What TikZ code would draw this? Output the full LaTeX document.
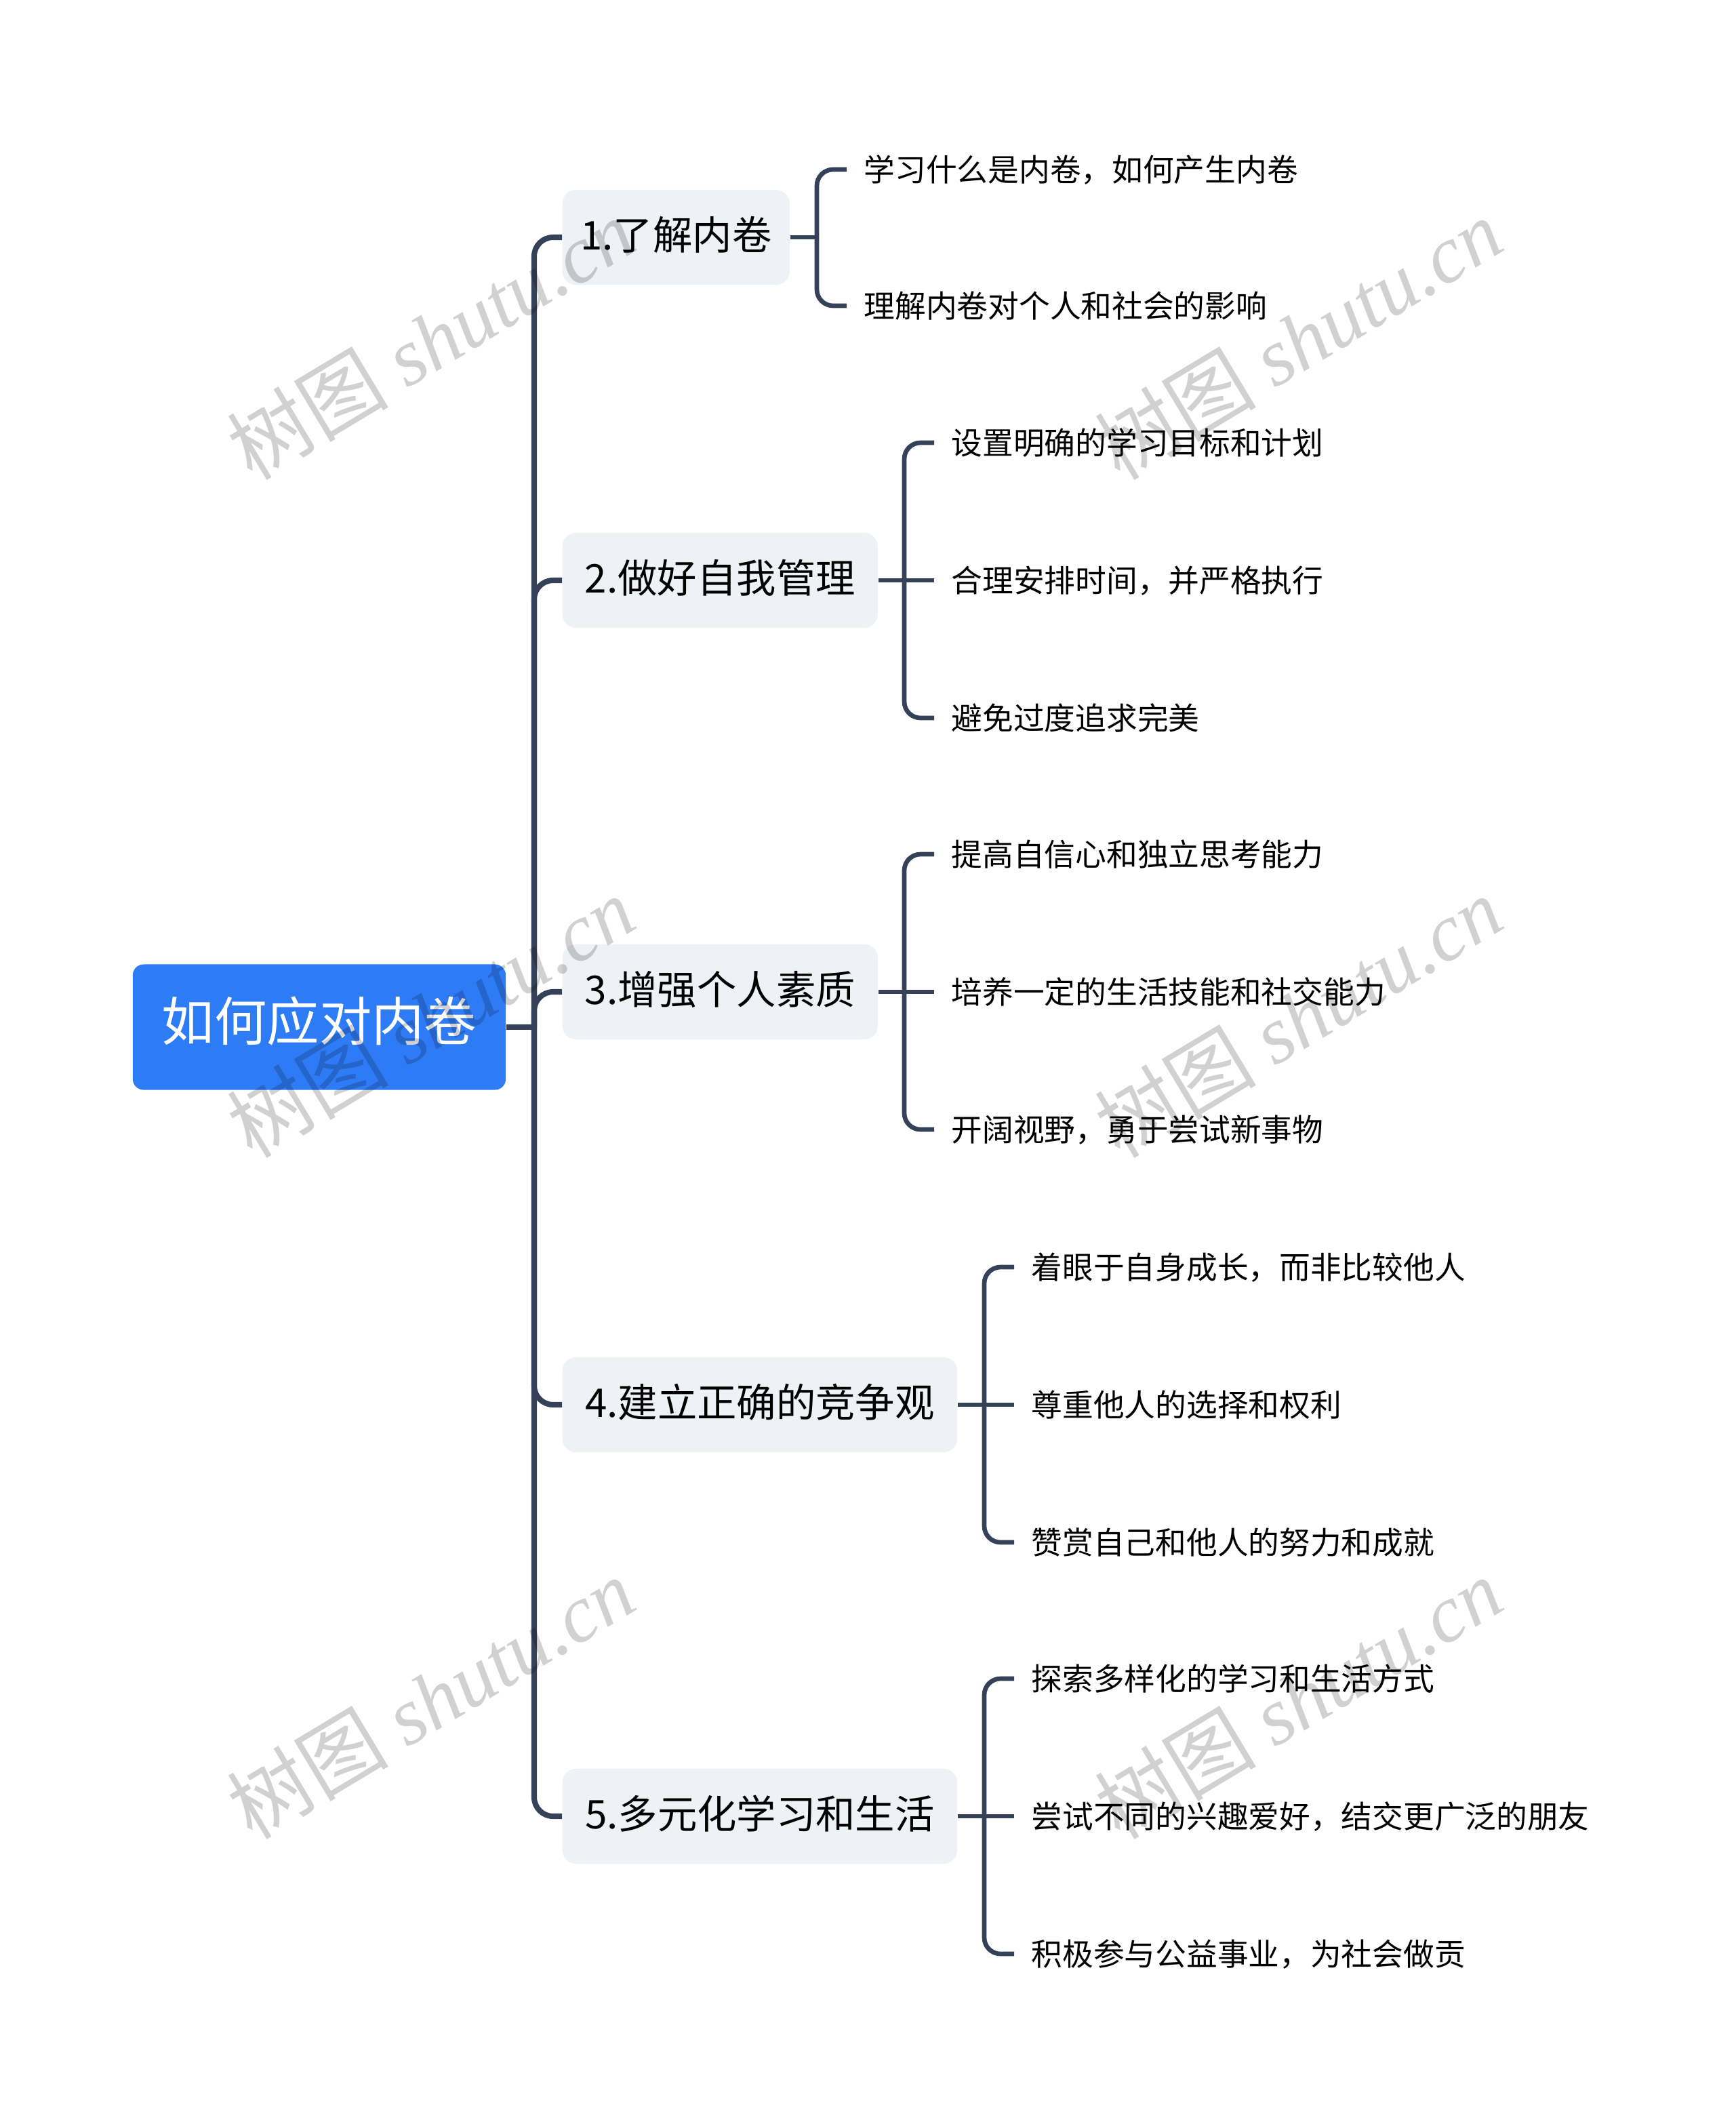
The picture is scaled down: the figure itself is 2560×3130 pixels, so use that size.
\documentclass[tikz,border=0pt]{standalone}
\usepackage{fontspec}
\setmainfont{Noto Sans CJK SC}
\newfontfamily\wmlatin{Liberation Serif}
\usetikzlibrary{calc}
\definecolor{linec}{RGB}{52,65,88}
\definecolor{rootc}{RGB}{46,123,246}
\definecolor{boxc}{RGB}{238,241,245}
\begin{document}
\begin{tikzpicture}[x=0.01cm,y=-0.01cm,
  rootbox/.style={fill=rootc, rounded corners=0.16cm, minimum width=5.5cm, minimum height=1.85cm, inner sep=0pt, text=white, font=\fontsize{22}{26}\selectfont, text height=1.14em, text depth=0em},
  branchbox/.style={fill=boxc, rounded corners=0.2cm, minimum height=1.4cm, inner sep=0pt, anchor=west, font=\fontsize{16.6}{20}\selectfont, text height=1.07em, text depth=0em},
  leaftext/.style={anchor=west, inner xsep=0.25cm, inner ysep=0pt, font=\fontsize{13}{16}\selectfont, text height=0.98em, text depth=0em},
  trunk/.style={draw=linec, line width=2.3pt, rounded corners=0.28cm},
  twig/.style={draw=linec, line width=1.9pt, rounded corners=0.24cm},
  wm/.style={rotate=31, text=black, opacity=0.18, inner sep=0pt, font=\fontsize{34}{38}\selectfont}
]
\useasboundingbox[fill=white] (0,0) rectangle (2560,3130);

% root
\node[rootbox] (root) at (471,1515) {如何应对内卷};
\coordinate (J) at (788,1515);

% branches
\node[branchbox, minimum width=3.35cm] (b1) at (829,350) {1.了解内卷};
\node[branchbox, minimum width=4.65cm] (b2) at (829,856) {2.做好自我管理};
\node[branchbox, minimum width=4.65cm] (b3) at (829,1463) {3.增强个人素质};
\node[branchbox, minimum width=5.82cm] (b4) at (829,2072) {4.建立正确的竞争观};
\node[branchbox, minimum width=5.82cm] (b5) at (829,2679) {5.多元化学习和生活};

% leaves
\node[leaftext] (l11) at (1249,250) {学习什么是内卷，如何产生内卷};
\node[leaftext] (l12) at (1249,451) {理解内卷对个人和社会的影响};

\node[leaftext] (l21) at (1378,653) {设置明确的学习目标和计划};
\node[leaftext] (l22) at (1378,856) {合理安排时间，并严格执行};
\node[leaftext] (l23) at (1378,1059) {避免过度追求完美};

\node[leaftext] (l31) at (1378,1260) {提高自信心和独立思考能力};
\node[leaftext] (l32) at (1378,1463) {培养一定的生活技能和社交能力};
\node[leaftext] (l33) at (1378,1666) {开阔视野，勇于尝试新事物};

\node[leaftext] (l41) at (1496,1869) {着眼于自身成长，而非比较他人};
\node[leaftext] (l42) at (1496,2072) {尊重他人的选择和权利};
\node[leaftext] (l43) at (1496,2275) {赞赏自己和他人的努力和成就};

\node[leaftext] (l51) at (1496,2476) {探索多样化的学习和生活方式};
\node[leaftext] (l52) at (1496,2679) {尝试不同的兴趣爱好，结交更广泛的朋友};
\node[leaftext] (l53) at (1496,2882) {积极参与公益事业，为社会做贡};

% trunk connectors
\draw[trunk] (root.east) -- (J);
\foreach \b in {b1,b2,b3,b4,b5} {\draw[trunk] (J) |- (\b.west);}

% bracket junctions
\coordinate (k1) at (1205,350);
\coordinate (k2) at (1334,856);
\coordinate (k3) at (1334,1463);
\coordinate (k4) at (1452,2072);
\coordinate (k5) at (1452,2679);

\draw[twig] (b1.east) -- (k1);
\draw[twig] (k1) |- (l11.west);
\draw[twig] (k1) |- (l12.west);

\draw[twig] (b2.east) -- (k2) -- (l22.west);
\draw[twig] (k2) |- (l21.west);
\draw[twig] (k2) |- (l23.west);

\draw[twig] (b3.east) -- (k3) -- (l32.west);
\draw[twig] (k3) |- (l31.west);
\draw[twig] (k3) |- (l33.west);

\draw[twig] (b4.east) -- (k4) -- (l42.west);
\draw[twig] (k4) |- (l41.west);
\draw[twig] (k4) |- (l43.west);

\draw[twig] (b5.east) -- (k5) -- (l52.west);
\draw[twig] (k5) |- (l51.west);
\draw[twig] (k5) |- (l53.west);

% watermarks
\foreach \p [count=\i] in {(635,500),(1915,500),(635,1500),(1915,1500),(635,2505),(1915,2505)} {
  \node[wm] (wm\i) at \p {树图 {\wmlatin\itshape shutu.cn}};
}
\end{tikzpicture}
\end{document}
